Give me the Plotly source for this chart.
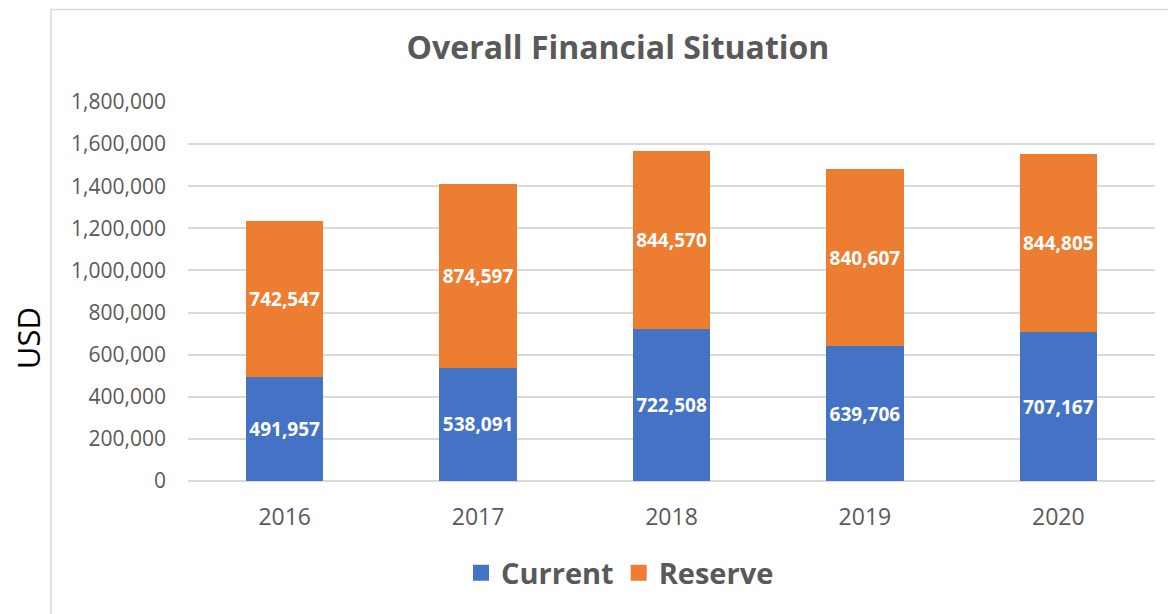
import plotly.graph_objects as go

years = ["2016", "2017", "2018", "2019", "2020"]
current = [491957, 538091, 722508, 639706, 707167]
reserve = [742547, 874597, 844570, 840607, 844805]
y_ticks = [0, 200000, 400000, 600000, 800000, 1000000, 1200000, 1400000, 1600000, 1800000]

BLUE = "#4472C4"
ORANGE = "#ED7D31"
GREY = "#595959"
FONT = "Open Sans"

fig = go.Figure()
fig.add_trace(go.Bar(
    x=years, y=current, name="Current", marker=dict(color=BLUE, line=dict(width=0)),
    text=[f"{v:,}" for v in current], textposition="inside", insidetextanchor="middle",
    textangle=0, textfont=dict(color="white", size=19, family=FONT, weight="bold"),
    constraintext="none", showlegend=False,
))
fig.add_trace(go.Bar(
    x=years, y=reserve, name="Reserve", marker=dict(color=ORANGE, line=dict(width=0)),
    text=[f"{v:,}" for v in reserve], textposition="inside", insidetextanchor="middle",
    textangle=0, textfont=dict(color="white", size=19, family=FONT, weight="bold"),
    constraintext="none", showlegend=False,
))
# legend entries with larger square swatches
for nm, col in (("Current", BLUE), ("Reserve", ORANGE)):
    fig.add_trace(go.Scatter(x=[None], y=[None], mode="markers", name=nm,
                             marker=dict(symbol="square", size=18, color=col)))

OFF = 8  # page body margin
W, H = 1176 - OFF, 614 - OFF
L, R, T, B = 188 - OFF, 21, 101.5 - OFF, 133
pw = W - L - R
ph = H - T - B

def px(x):
    return (x - OFF - L) / pw

def py(y):
    return (H - B - (y - OFF)) / ph

fig.update_layout(
    width=W, height=H,
    margin=dict(l=L, r=R, t=T, b=B, autoexpand=False),
    barmode="stack", bargap=0.6,
    paper_bgcolor="white", plot_bgcolor="white",
    font=dict(family=FONT, color=GREY),
    uniformtext=dict(mode=False),
    title=dict(text="<b>Overall Financial Situation</b>", font=dict(size=32, color=GREY, family=FONT),
               x=px(618), xref="paper", xanchor="center", y=1 - (48 - OFF) / H, yanchor="middle"),
    xaxis=dict(showgrid=False, showline=False, ticks="", tickfont=dict(size=23, color=GREY),
               ticklabelstandoff=20),
    yaxis=dict(range=[0, 1800000], tickvals=y_ticks, ticktext=[f"{v:,}" for v in y_ticks],
               showgrid=True, gridcolor="#D9D9D9", gridwidth=1.5, zeroline=True, zerolinecolor="#D9D9D9",
               zerolinewidth=1.5, tickfont=dict(size=21, color=GREY), ticklabelstandoff=21,
               title=None),
    legend=dict(orientation="h", x=px(620), xanchor="center", y=py(573), yanchor="middle",
                font=dict(size=29, color=GREY, family=FONT, weight="bold"), itemwidth=30,
                traceorder="normal", itemsizing="trace"),
    showlegend=True,
)

fig.add_annotation(text="USD", xref="paper", yref="paper", x=px(28), y=py(338), showarrow=False,
                   textangle=-90, font=dict(size=31, color="black", family=FONT),
                   xanchor="center", yanchor="middle")

fig.add_shape(type="rect", xref="paper", yref="paper", x0=px(51), y0=py(660), x1=px(1250), y1=py(8.8),
              line=dict(color="#D9D9D9", width=1.5), fillcolor="rgba(0,0,0,0)", layer="below")

fig.write_html("out.html")
